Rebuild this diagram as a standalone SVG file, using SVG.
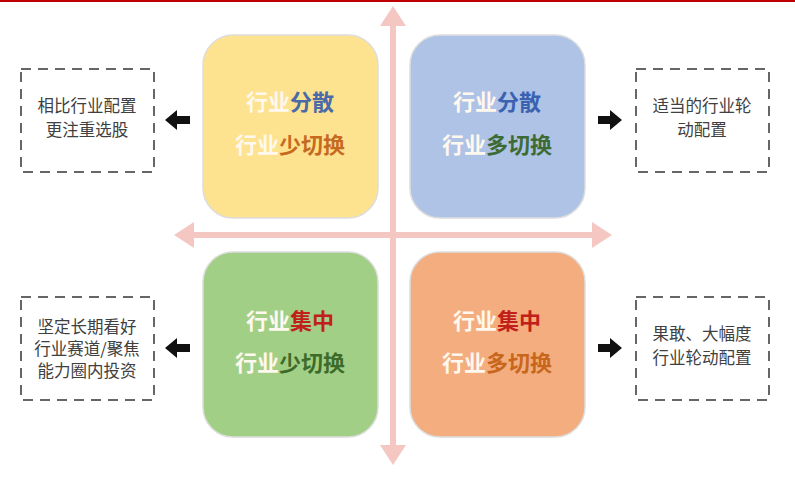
<svg xmlns="http://www.w3.org/2000/svg" width="795" height="484" viewBox="0 0 795 484">
<style>
.q{stroke:#ddd;stroke-width:1.5}
.t{font-family:"Noto Sans CJK SC",sans-serif;font-size:22px;text-anchor:middle;font-weight:bold}
.d{fill:#fff;stroke:#666;stroke-width:2;stroke-dasharray:10 7}
.s{font-family:"Noto Sans CJK SC",sans-serif;font-size:16.5px;text-anchor:middle;fill:#404040}
.w{fill:#fff8ee}
</style>
<rect width="795" height="484" fill="#fff"/>
<line x1="0" y1="1" x2="795" y2="1" stroke="#c00000" stroke-width="2"/>
<g id="connectors" fill="#f4c7c3" stroke="none">
<rect x="390" y="24" width="6" height="424"/>
<polygon points="393,6 380,26 406,26"/>
<polygon points="393,465 380,445 406,445"/>
<rect x="190" y="232" width="406" height="6"/>
<polygon points="174,235 194,222 194,248"/>
<polygon points="612,235 592,222 592,248"/>
<g fill="#111">
<polygon points="165,120 177,110 177,116 190,116 190,124 177,124 177,130"/>
<polygon points="165,348 177,338 177,344 190,344 190,352 177,352 177,358"/>
<polygon points="622,120 610,110 610,116 598,116 598,124 610,124 610,130"/>
<polygon points="622,348 610,338 610,344 598,344 598,352 610,352 610,358"/>
</g>
</g>
<g id="q1"><rect class="q" x="203" y="35" width="175" height="183" rx="30" fill="#fde28f"/>
<text class="t" x="290" y="110"><tspan class="w">行业</tspan><tspan fill="#4a6aa8">分散</tspan></text>
<text class="t" x="290" y="153"><tspan class="w">行业</tspan><tspan fill="#c66a1f">少切换</tspan></text></g>
<g id="q2"><rect class="q" x="410" y="35" width="175" height="183" rx="30" fill="#aec3e6"/>
<text class="t" x="497" y="110"><tspan class="w">行业</tspan><tspan fill="#3b62b0">分散</tspan></text>
<text class="t" x="497" y="153"><tspan class="w">行业</tspan><tspan fill="#3d6b33">多切换</tspan></text></g>
<g id="q3"><rect class="q" x="203" y="252" width="175" height="185" rx="30" fill="#a2cf86"/>
<text class="t" x="290" y="329"><tspan class="w">行业</tspan><tspan fill="#c0201a">集中</tspan></text>
<text class="t" x="290" y="371"><tspan class="w">行业</tspan><tspan fill="#3d6b2a">少切换</tspan></text></g>
<g id="q4"><rect class="q" x="410" y="252" width="175" height="185" rx="30" fill="#f3ad7e"/>
<text class="t" x="497" y="329"><tspan class="w">行业</tspan><tspan fill="#c0201a">集中</tspan></text>
<text class="t" x="497" y="371"><tspan class="w">行业</tspan><tspan fill="#c8661c">多切换</tspan></text></g>
<g id="n1"><rect class="d" x="21" y="69" width="133" height="103"/>
<text class="s" x="87" y="112">相比行业配置</text><text class="s" x="87" y="136">更注重选股</text></g>
<g id="n2"><rect class="d" x="636" y="69" width="133" height="103"/>
<text class="s" x="702" y="112">适当的行业轮</text><text class="s" x="702" y="136">动配置</text></g>
<g id="n3"><rect class="d" x="21" y="297" width="133" height="103"/>
<text class="s" x="87" y="333">坚定长期看好</text><text class="s" x="87" y="355">行业赛道/聚焦</text><text class="s" x="87" y="377">能力圈内投资</text></g>
<g id="n4"><rect class="d" x="636" y="297" width="133" height="103"/>
<text class="s" x="702" y="340">果敢、大幅度</text><text class="s" x="702" y="364">行业轮动配置</text></g>
</svg>
